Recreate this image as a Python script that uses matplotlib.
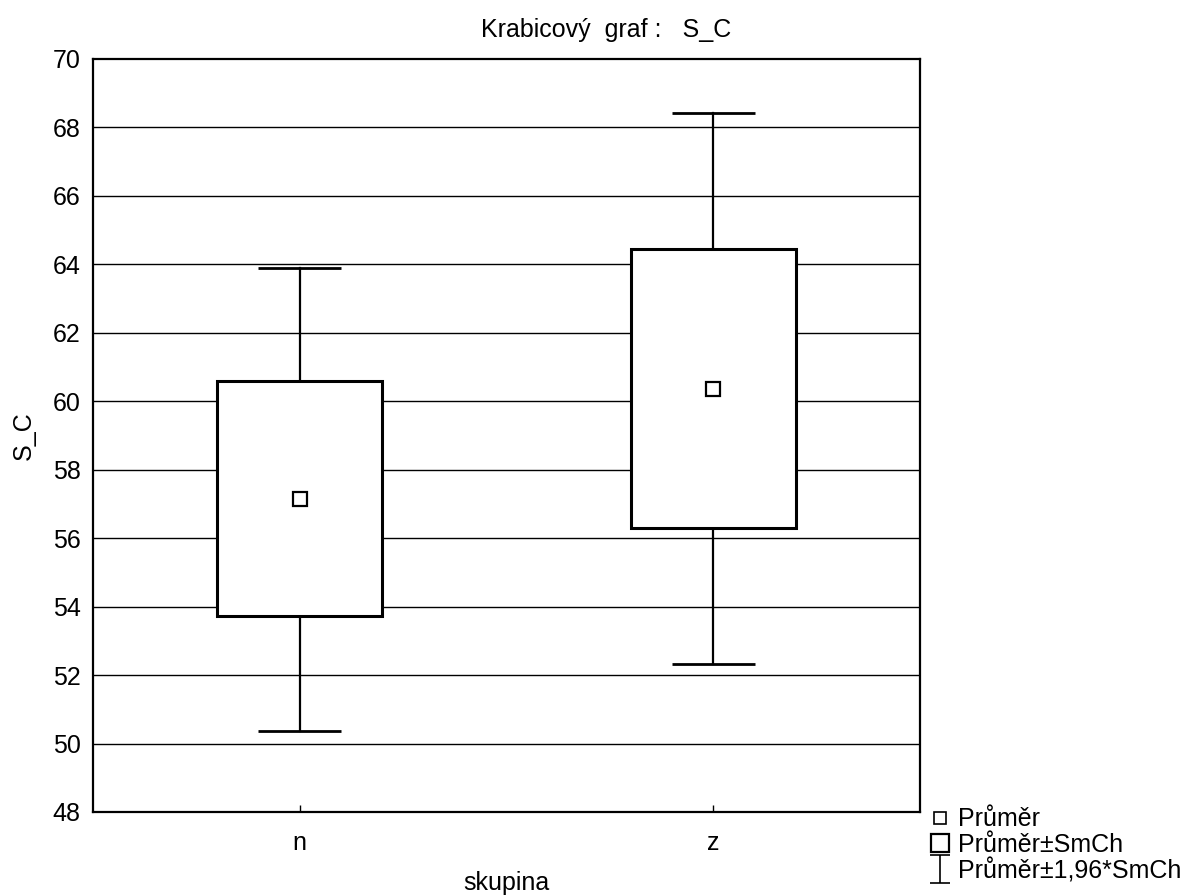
import matplotlib
matplotlib.use("Agg")
import matplotlib.pyplot as plt
from matplotlib.lines import Line2D
from matplotlib.path import Path
import numpy as np

plt.rcParams['font.family'] = ['Liberation Sans', 'DejaVu Sans']

# data
groups = ["n", "z"]
means = [57.15, 60.37]
se_low = [53.72, 56.30]
se_high = [60.58, 64.46]
ci_low = [50.38, 52.32]
ci_high = [63.90, 68.43]
yticks = [48, 50, 52, 54, 56, 58, 60, 62, 64, 66, 68, 70]

fig = plt.figure(figsize=(11.91, 8.96), dpi=100)
ax = fig.add_axes([93/1191, 1-812/896, (920-93)/1191, (812-59)/896])

fs = 18
x = np.arange(len(groups))
ax.set_xlim(-0.5, 1.5)
ax.set_ylim(48, 70)

for yv in yticks[1:-1]:
    ax.axhline(yv, color='black', lw=1.0, zorder=1)

box_w = 0.4
cap_w = 0.2
for xi, m, sl, sh, cl, ch in zip(x, means, se_low, se_high, ci_low, ci_high):
    ax.plot([xi, xi], [sh, ch], color='black', lw=1.6, zorder=2)
    ax.plot([xi, xi], [cl, sl], color='black', lw=1.6, zorder=2)
    ax.plot([xi - cap_w/2, xi + cap_w/2], [ch, ch], color='black', lw=2, zorder=2, solid_capstyle='butt')
    ax.plot([xi - cap_w/2, xi + cap_w/2], [cl, cl], color='black', lw=2, zorder=2, solid_capstyle='butt')
    rect = plt.Rectangle((xi - box_w/2, sl), box_w, sh - sl, facecolor='white',
                         edgecolor='black', lw=2.2, zorder=3)
    ax.add_patch(rect)
    ax.plot([xi], [m], marker='s', markersize=10, markerfacecolor='white',
            markeredgecolor='black', markeredgewidth=1.6, zorder=4, linestyle='none')

ax.set_xticks(x)
ax.set_xticklabels(groups, fontsize=fs)
ax.set_yticks(yticks)
ax.set_yticklabels([str(v) for v in yticks], fontsize=fs)
ax.tick_params(axis='x', direction='in', length=5, width=1, pad=14)
ax.tick_params(axis='y', length=0, pad=9)
for s in ax.spines.values():
    s.set_linewidth(1.6)

ax.set_ylabel("S_C", fontsize=fs, labelpad=12)
fig.text(506/1191, 1-883/896, "skupina", fontsize=fs, ha='center', va='center')
fig.text(606/1191, 1-30/896, "Krabicový  graf :   S_C", fontsize=fs, ha='center', va='center')

ibeam = Path([(-0.7, 1), (0.7, 1), (0, 1), (0, -1), (-0.7, -1), (0.7, -1)],
             [Path.MOVETO, Path.LINETO, Path.MOVETO, Path.LINETO, Path.MOVETO, Path.LINETO])
handles = [
    Line2D([], [], marker='s', markersize=8, markerfacecolor='white', markeredgecolor='black',
           markeredgewidth=1.2, linestyle='none'),
    Line2D([], [], marker='s', markersize=13, markerfacecolor='white', markeredgecolor='black',
           markeredgewidth=1.6, linestyle='none'),
    Line2D([], [], marker=ibeam, markersize=20, markerfacecolor='none', markeredgecolor='black',
           markeredgewidth=1.2, linestyle='none'),
]
labels = ["Průměr", "Průměr±SmCh", "Průměr±1,96*SmCh"]
fig.legend(handles, labels, loc='lower left', bbox_to_anchor=(925/1191, 8/896),
           frameon=False, fontsize=fs, handlelength=0.8, handletextpad=0.3,
           labelspacing=0.05, borderpad=0.2, borderaxespad=0.0)

fig.savefig("out.png", dpi=100, facecolor='white')
